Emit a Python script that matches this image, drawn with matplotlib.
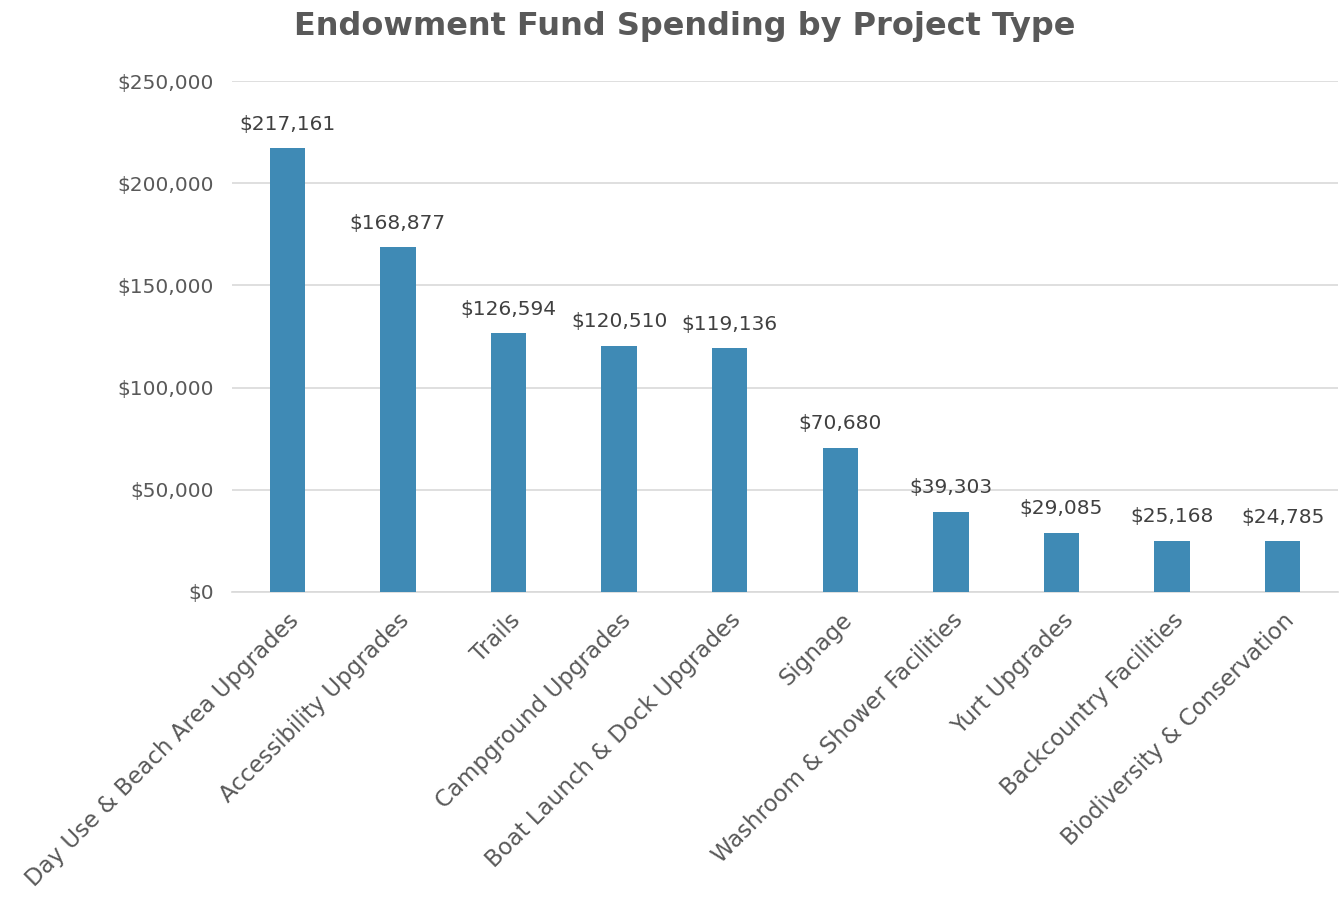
import matplotlib
matplotlib.use("Agg")
import matplotlib.pyplot as plt
from matplotlib.ticker import FuncFormatter

categories = ["Day Use & Beach Area Upgrades", "Accessibility Upgrades", "Trails",
              "Campground Upgrades", "Boat Launch & Dock Upgrades", "Signage",
              "Washroom & Shower Facilities", "Yurt Upgrades", "Backcountry Facilities",
              "Biodiversity & Conservation"]
values = [217161, 168877, 126594, 120510, 119136, 70680, 39303, 29085, 25168, 24785]
yticks = [0, 50000, 100000, 150000, 200000, 250000]

plt.rcParams['font.family'] = ['DejaVu Sans']

fig = plt.figure(figsize=(13.39, 8.99), dpi=100)
ax = fig.add_axes([232/1339, 1-592/899, (1338-232)/1339, (592-81)/899])

x = range(len(categories))
ax.bar(x, values, width=0.32, color="#3F8AB5", zorder=3)
for i, v in zip(x, values):
    ax.text(i, v + 7000, f"${v:,.0f}", ha="center", va="bottom", fontsize=14.5, color="#404040")

ax.set_xlim(-0.5, len(categories) - 0.5)
ax.set_ylim(0, 250000)
ax.set_yticks(yticks)
ax.yaxis.set_major_formatter(FuncFormatter(lambda v, p: f"${v:,.0f}"))
ax.grid(axis="y", color="#D9D9D9", linewidth=1.2, zorder=0)
for s in ["top", "right", "left"]:
    ax.spines[s].set_visible(False)
ax.spines["bottom"].set_color("#D9D9D9")
ax.spines["bottom"].set_linewidth(1.2)
ax.tick_params(axis="both", length=0, colors="#595959", labelsize=14.5)
ax.tick_params(axis="y", pad=13)
ax.set_xticks(list(x))
ax.set_xticklabels(categories, rotation=45, ha="right", rotation_mode="anchor", fontsize=16.5)
ax.tick_params(axis="x", pad=12)

fig.text(0.511, 0.97, "Endowment Fund Spending by Project Type", ha="center", va="center",
         fontsize=23, fontweight="bold", color="#595959")

fig.savefig("out.png", dpi=100)
